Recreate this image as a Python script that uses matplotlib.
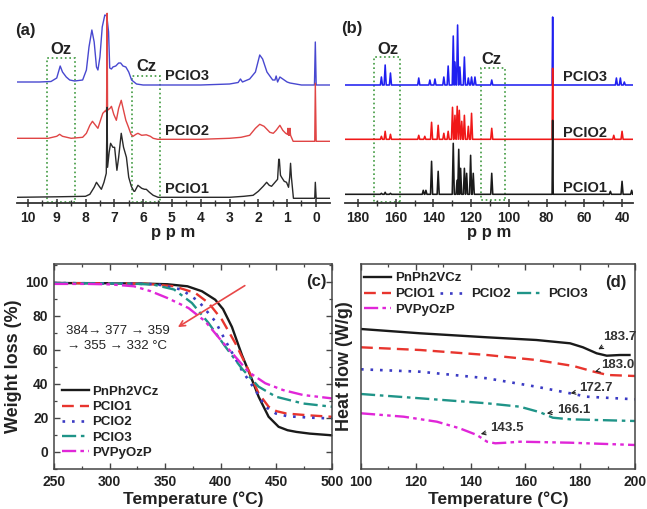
import matplotlib
matplotlib.use("Agg")
import matplotlib.pyplot as plt
from matplotlib.patches import Rectangle
from matplotlib.ticker import MultipleLocator
import numpy as np

plt.rcParams['font.family'] = ['Liberation Sans', 'DejaVu Sans']
plt.rcParams['font.weight'] = 'bold'
plt.rcParams['axes.labelweight'] = 'bold'

# ---------------- (a) 1H NMR : (ppm, height above own baseline) ----------------
h1_pcio3_ppm = [10.38, 9.6, 9.2, 9.0, 8.88, 8.8, 8.67, 8.55, 8.38, 8.1, 7.97, 7.88, 7.78, 7.7, 7.62,
                7.57, 7.5, 7.42, 7.33, 7.26, 7.2, 7.16, 7.1, 7.05, 6.95, 6.85, 6.78, 6.7, 6.6, 6.5,
                6.4, 6.23, 6.0, 5.5, 4.0, 3.0, 2.7, 2.62, 2.55, 2.3, 2.1, 1.95, 1.85, 1.7, 1.5,
                1.42, 1.38, 1.33, 1.25, 1.15, 1.0, 0.9, 0.5, 0.05, 0.02, -0.01, -0.5]
h1_pcio3_int = [0, 0, 0.5, 4, 16, 10, 5, 2, 1, 2, 12, 35, 52, 40, 15,
                12, 25, 55, 67, 66, 50, 14, 13, 15, 16, 19, 19, 16, 15, 10,
                2, -2, -3, -3, -3, -2, -0.5, 3, 0, 3, 10, 27, 23, 10, 2,
                2, 6, 0, 5, 3, 0, -1, -3, -3, 40, -3, -3]

h1_pcio2_ppm = [10.38, 9.3, 9.0, 8.9, 8.8, 8.5, 8.1, 7.97, 7.85, 7.76, 7.68, 7.57, 7.48, 7.4, 7.3,
                7.27, 7.25, 7.235, 7.15, 7.1, 7.02, 6.93, 6.85, 6.76, 6.68, 6.6, 6.52, 6.42, 6.35,
                6.25, 6.18, 6.05, 5.89, 5.75, 5.65, 5.5, 4.0, 3.0, 2.6, 2.3, 2.1, 1.95, 1.8, 1.6,
                1.48, 1.38, 1.25, 1.15, 1.05, 0.99, 0.97, 0.95, 0.92, 0.9, 0.88, 0.79, 0.5, 0.04,
                0.02, -0.01, -0.5]
h1_pcio2_int = [0, 0, 2, 4, 2, 0, 1, 5, 13, 17, 14, 10, 18, 25, 28,
                26, 125, 28, 30, 32, 24, 18, 30, 38, 28, 18, 12, 4, 2,
                4, 5, 3, 3.5, 2, 0, -1, -1, 0, 1, 3, 10, 14, 12, 6,
                5, 8, 13, 8, 5, 4, 10, 3, 3, 10, 3, -3, -3, -3,
                55, -3, -3]

h1_pcio1_ppm = [10.38, 9.0, 8.0, 7.85, 7.7, 7.62, 7.55, 7.45, 7.36, 7.28, 7.25, 7.235, 7.18, 7.13,
                7.05, 6.99, 6.91, 6.85, 6.76, 6.68, 6.58, 6.5, 6.41, 6.32, 6.29, 6.18, 6.05, 5.95,
                5.89, 5.78, 5.65, 5.48, 3.0, 2.5, 2.18, 2.0, 1.83, 1.71, 1.62, 1.54, 1.45, 1.33,
                1.29, 1.27, 1.23, 1.19, 1.1, 1.02, 0.95, 0.91, 0.88, 0.85, 0.78, 0.5, 0.04, 0.02,
                -0.01, -0.5]
h1_pcio1_int = [0, 0.5, 1, 3, 10, 15, 12, 8, 15, 24, 90, 30, 45, 54,
                50, 50, 27, 40, 64, 50, 40, 20, 11, 6, 6, 12, 9, 8,
                8, 5, 2, 0, 0, 1, 2, 6, 11, 15, 12, 11, 14, 18,
                38, 38, 22, 20, 16, 15, 10, 20, 34, 20, -1, -1, -1, 15,
                -1, -1]

# ---------------- (b) 13C NMR peak lists : (ppm, height) ----------------
c13_pcio3_pos = [167.6, 165.6, 162.8, 147.8, 141.9, 139.2, 134.5, 132.2, 129.5, 128.6, 127.2, 126.0,
                 123.6, 121.5, 119.8, 118.0, 109.1, 76.8, 43.0, 40.9, 38.8]
c13_pcio3_hgt = [8, 20, 12, 7, 5, 6, 8, 19, 49, 23, 60, 18, 28, 7, 8, 8, 5, 68, 7, 7, 3]

c13_pcio2_pos = [167.6, 165.6, 162.8, 147.8, 144.6, 141.0, 137.5, 134.5, 132.2, 129.9, 128.6, 127.4,
                 126.3, 125.0, 123.6, 121.5, 119.8, 109.1, 76.8, 44.4, 40.0]
c13_pcio2_hgt = [3, 8, 5, 4, 3, 17, 14, 6, 8, 32, 24, 33, 29, 18, 24, 13, 26, 11, 71, 4, 8]

c13_pcio1_pos = [167.6, 165.6, 162.8, 145.4, 144.0, 141.0, 137.5, 129.5, 127.5, 126.6, 125.6, 123.6,
                 122.4, 120.3, 118.9, 109.1, 76.8, 46.2, 40.0, 34.9]
c13_pcio1_hgt = [1, 2, 1, 4, 4, 33, 23, 51, 14, 45, 26, 26, 21, 39, 21, 21, 74, 3, 13, 4]

# ---------------- (c) TGA ----------------
tga_T = {
    'PnPh2VCz': [250, 300, 330, 352, 370, 383, 395, 402, 410, 419, 427, 434, 443, 452, 460, 468, 480, 500],
    'PCIO1':    [250, 330, 358, 377, 389, 401, 413, 425, 434, 443, 450, 459, 480, 500],
    'PCIO2':    [250, 320, 343, 364.5, 380, 395, 407, 419, 431, 440, 449.5, 460, 480, 500],
    'PCIO3':    [250, 320, 340, 358, 374, 389, 404, 419, 434, 449.5, 474, 500],
    'PVPyOzP':  [250, 280, 301, 322, 337, 352, 371, 386, 401, 413, 425, 440, 456, 474, 500],
}
tga_W = {
    'PnPh2VCz': [99.3, 99.2, 99.0, 98.6, 97.4, 94.5, 89.5, 84.0, 73.5, 57.0, 44.3, 32.5, 20.7, 14.8, 12.8, 11.8, 10.8, 9.8],
    'PCIO1':    [99.3, 99.0, 97.4, 93.5, 87.6, 77.8, 64.0, 48.0, 34.4, 26.6, 24.0, 22.6, 21.5, 20.7],
    'PCIO2':    [99.3, 99.0, 98.5, 95.5, 88.6, 76.8, 62.0, 48.0, 36.4, 26.6, 22.6, 21.0, 20.2, 19.7],
    'PCIO3':    [99.3, 99.0, 98.3, 95.5, 87.6, 75.8, 62.0, 49.0, 38.4, 32.5, 28.5, 26.6],
    'PVPyOzP':  [98.8, 98.8, 98.5, 97.4, 94.5, 90.5, 84.6, 76.8, 65.0, 56.0, 47.0, 40.4, 36.4, 33.5, 31.5],
}

# ---------------- (d) DSC (arbitrary stacked heat flow) ----------------
dsc_T = {
    'PnPh2VCz': [100, 121.6, 146, 164, 176.3, 181, 186, 189.7, 194.5, 198],
    'PCIO1':    [100, 121.6, 146, 164, 177.5, 185, 190, 200],
    'PCIO2':    [100, 121.6, 146, 164, 176.3, 182.4, 200],
    'PCIO3':    [100, 121.6, 146, 158, 165.4, 170, 176.3, 200],
    'PVPyOzP':  [100, 115.6, 127.7, 136, 142.3, 146, 149, 153, 158, 176.3, 200],
}
dsc_H = {
    'PnPh2VCz': [140, 135.7, 131.7, 129, 125.7, 121.7, 115.7, 113.3, 114, 114],
    'PCIO1':    [121.7, 119, 114, 109, 103, 97.3, 94, 93],
    'PCIO2':    [99.7, 97.3, 90.7, 82.3, 75.7, 72.3, 69.7],
    'PCIO3':    [75, 70.7, 65.7, 62.3, 56.7, 51.3, 49.7, 48],
    'PVPyOzP':  [55.7, 52.3, 47.3, 40.7, 34, 27.3, 25.7, 26.3, 27.3, 26.3, 24],
}
dsc_tg_labels = ['183.7', '183.0', '172.7', '166.1', '143.5']

series_names = ['PnPh2VCz', 'PCIO1', 'PCIO2', 'PCIO3', 'PVPyOzP']
series_colors = {'PnPh2VCz': '#1a1a1a', 'PCIO1': '#e8352e', 'PCIO2': '#3b3bc4',
                 'PCIO3': '#1f9488', 'PVPyOzP': '#e026d8'}
series_styles = {'PnPh2VCz': '-', 'PCIO1': (0, (5, 2.6)), 'PCIO2': (0, (1, 2.6)),
                 'PCIO3': (0, (6, 2, 1.5, 2)), 'PVPyOzP': (0, (6, 1.8, 1.5, 1.8, 1.5, 1.8))}

W, H = 647, 509
fig = plt.figure(figsize=(W / 100, H / 100), dpi=100)

def frac(l, t, r, b):
    return [l / W, 1 - b / H, (r - l) / W, (b - t) / H]

axA = fig.add_axes(frac(17, 5, 330, 203))
axB = fig.add_axes(frac(345, 5, 633, 203))
axC = fig.add_axes(frac(54, 264, 332, 469))
axD = fig.add_axes(frac(361, 264, 635, 469))

green = '#3f9a3f'

def nmr_axes(ax, xlim, major, minor):
    ax.set_xlim(*xlim)
    ax.set_ylim(0, 198)
    for s in ['top', 'right', 'left']:
        ax.spines[s].set_visible(False)
    ax.spines['bottom'].set_linewidth(1.3)
    ax.spines['bottom'].set_color('#333333')
    ax.set_yticks([])
    ax.xaxis.set_major_locator(MultipleLocator(major))
    ax.xaxis.set_minor_locator(MultipleLocator(minor))
    ax.tick_params(axis='x', which='major', direction='inout', length=6, width=1.1,
                   labelsize=10, pad=3, colors='#333333', labelcolor='#222222')
    ax.tick_params(axis='x', which='minor', direction='inout', length=4, width=1.0, colors='#333333')
    ax.set_xlabel('p p m', fontsize=12, labelpad=0, color='#222222')
    ax.patch.set_alpha(0)

# ---- (a)
offA = {'PCIO3': 121, 'PCIO2': 64.7, 'PCIO1': 5.7}
axA.plot(h1_pcio3_ppm, np.array(h1_pcio3_int) + offA['PCIO3'], color='#4848d0', lw=1.0)
axA.plot(h1_pcio2_ppm, np.array(h1_pcio2_int) + offA['PCIO2'], color='#e04545', lw=1.0)
axA.plot(h1_pcio1_ppm, np.array(h1_pcio1_int) + offA['PCIO1'], color='#2a2a2a', lw=1.0)
nmr_axes(axA, (10.38, -0.49), 1, 0.5)
axA.set_xticks(range(0, 11))
axA.set_xticklabels([str(v) for v in range(0, 11)])
axA.add_patch(Rectangle((8.38, 1.3), 9.33 - 8.38, 143.4, fill=False, ec=green, lw=1.2, ls=':'))
axA.add_patch(Rectangle((5.42, 1.3), 6.37 - 5.42, 125.7, fill=False, ec=green, lw=1.2, ls=':'))
axA.text(8.84, 153, 'Oz', fontsize=12, ha='center', va='center', color='#222222')
axA.text(5.89, 136.3, 'Cz', fontsize=12, ha='center', va='center', color='#222222')
for name, yy in [('PCIO3', 127.3), ('PCIO2', 72), ('PCIO1', 13.7)]:
    axA.text(5.25, yy, name, fontsize=10.5, ha='left', va='center', color='#222222')
fig.text(15 / W, 1 - 31 / H, '(a)', fontsize=12, ha='left', va='center', color='#222222')

# ---- (b)
def stick(pos, hgt, x0, x1, off, w=0.55):
    xs, ys = [x0], [off]
    for p, h in zip(pos, hgt):
        ww = 0.3 if h > 60 else w
        xs += [p + ww, p, p - ww]
        ys += [off, off + h, off]
    xs.append(x1)
    ys.append(off)
    return xs, ys

offB = {'PCIO3': 118, 'PCIO2': 63.7, 'PCIO1': 8.7}
bx = (186.9, 34.2)
xb, yb = stick(c13_pcio3_pos, c13_pcio3_hgt, bx[0], bx[1], offB['PCIO3'])
axB.plot(xb, yb, color='#2020f0', lw=1.15)
xb, yb = stick(c13_pcio2_pos, c13_pcio2_hgt, bx[0], bx[1], offB['PCIO2'])
axB.plot(xb, yb, color='#f01818', lw=1.15)
xb, yb = stick(c13_pcio1_pos, c13_pcio1_hgt, bx[0], bx[1], offB['PCIO1'])
axB.plot(xb, yb, color='#1a1a1a', lw=1.15)
nmr_axes(axB, bx, 20, 10)
axB.add_patch(Rectangle((157.5, 1.3), 14, 144.4, fill=False, ec=green, lw=1.2, ls=':'))
axB.add_patch(Rectangle((102, 3), 13, 131.7, fill=False, ec=green, lw=1.2, ls=':'))
axB.text(164, 153.7, 'Oz', fontsize=12, ha='center', va='center', color='#222222')
axB.text(109.1, 143.7, 'Cz', fontsize=12, ha='center', va='center', color='#222222')
for name, yy in [('PCIO3', 125.7), ('PCIO2', 70.3), ('PCIO1', 15.3)]:
    axB.text(71.4, yy, name, fontsize=10.5, ha='left', va='center', color='#222222')
fig.text(341 / W, 1 - 28 / H, '(b)', fontsize=12, ha='left', va='center', color='#222222')

# ---- (c)
for n in series_names:
    axC.plot(tga_T[n], tga_W[n], color=series_colors[n], ls=series_styles[n],
             lw=1.7 if n != 'PCIO2' else 1.9, label=n)
axC.set_xlim(250, 500)
axC.set_ylim(-10, 110.5)
axC.xaxis.set_major_locator(MultipleLocator(50))
axC.xaxis.set_minor_locator(MultipleLocator(25))
axC.yaxis.set_major_locator(MultipleLocator(20))
axC.yaxis.set_minor_locator(MultipleLocator(10))
axC.set_yticks([0, 20, 40, 60, 80, 100])
axC.set_xlabel('Temperature (°C)', fontsize=12.5, labelpad=2, color='#222222')
axC.set_ylabel('Weight loss (%)', fontsize=13, labelpad=2, color='#222222')
axC.annotate('', xy=(361.4, 73.4), xytext=(421.6, 97.8),
             arrowprops=dict(arrowstyle='->', color='#e84848', lw=1.2, shrinkA=0, shrinkB=0))
axC.text(261, 70.9, '384→ 377 → 359', fontsize=9.5, fontweight='normal', ha='left', va='center', color='#222222')
axC.text(262, 62.2, '→ 355 → 332 °C', fontsize=9.5, fontweight='normal', ha='left', va='center', color='#222222')
axC.text(495, 100, '(c)', fontsize=12, ha='right', va='center', color='#222222')
legC = axC.legend(loc='center left', bbox_to_anchor=(0.027, 0.228), frameon=False, fontsize=9.5,
                  handlelength=2.05, handletextpad=0.3, labelspacing=0.22, borderpad=0, borderaxespad=0)
for t in legC.get_texts():
    t.set_color('#222222')

# ---- (d)
linesD = {}
for n in series_names:
    linesD[n], = axD.plot(dsc_T[n], dsc_H[n], color=series_colors[n], ls=series_styles[n],
                          lw=1.7 if n != 'PCIO2' else 1.9, label=n)
axD.set_xlim(100, 200)
axD.set_ylim(0, 205)
axD.set_yticks([])
axD.xaxis.set_major_locator(MultipleLocator(20))
axD.xaxis.set_minor_locator(MultipleLocator(10))
axD.set_xlabel('Temperature (°C)', fontsize=12.5, labelpad=2, color='#222222')
axD.set_ylabel('Heat flow (W/g)', fontsize=13, labelpad=6, color='#222222')
axD.text(197, 186.7, '(d)', fontsize=12, ha='right', va='center', color='#222222')
ann_pos = [((186.6, 119.7), (188.2, 131.7)), ((185.4, 97.3), (187.8, 104)),
           ((176.5, 75.7), (179.7, 80.7)), ((167.8, 55.7), (171.4, 59)),
           ((143.7, 35), (147.1, 40.7))]
for lab, (xy, xyt) in zip(dsc_tg_labels, ann_pos):
    axD.annotate(lab, xy=xy, xytext=xyt, fontsize=9.5, ha='left', va='center', color='#333333',
                 arrowprops=dict(arrowstyle='->', color='#222222', lw=0.8, shrinkA=1, shrinkB=0,
                                 mutation_scale=7))
legkw = dict(frameon=False, fontsize=9.5, handlelength=2.05, handletextpad=0.3,
             borderpad=0, borderaxespad=0, loc='center left')
l1 = axD.legend([linesD['PnPh2VCz']], ['PnPh2VCz'], bbox_to_anchor=(0.01, 0.93), **legkw)
axD.add_artist(l1)
l2 = axD.legend([linesD['PCIO1'], linesD['PCIO2'], linesD['PCIO3']], ['PCIO1', 'PCIO2', 'PCIO3'],
                bbox_to_anchor=(0.01, 0.852), ncol=3, columnspacing=0.45, **legkw)
axD.add_artist(l2)
l3 = axD.legend([linesD['PVPyOzP']], ['PVPyOzP'], bbox_to_anchor=(0.01, 0.776), **legkw)
for lg in (l1, l2, l3):
    for t in lg.get_texts():
        t.set_color('#222222')

for ax in (axC, axD):
    for s in ax.spines.values():
        s.set_linewidth(1.1)
        s.set_color('#444444')
    ax.tick_params(which='both', direction='in', top=True, right=(ax is axC),
                   labelsize=10, colors='#444444', labelcolor='#222222')
    ax.tick_params(which='major', length=4, width=1.0, pad=4)
    ax.tick_params(which='minor', length=2.5, width=0.9)

fig.savefig('out.png', dpi=100)
